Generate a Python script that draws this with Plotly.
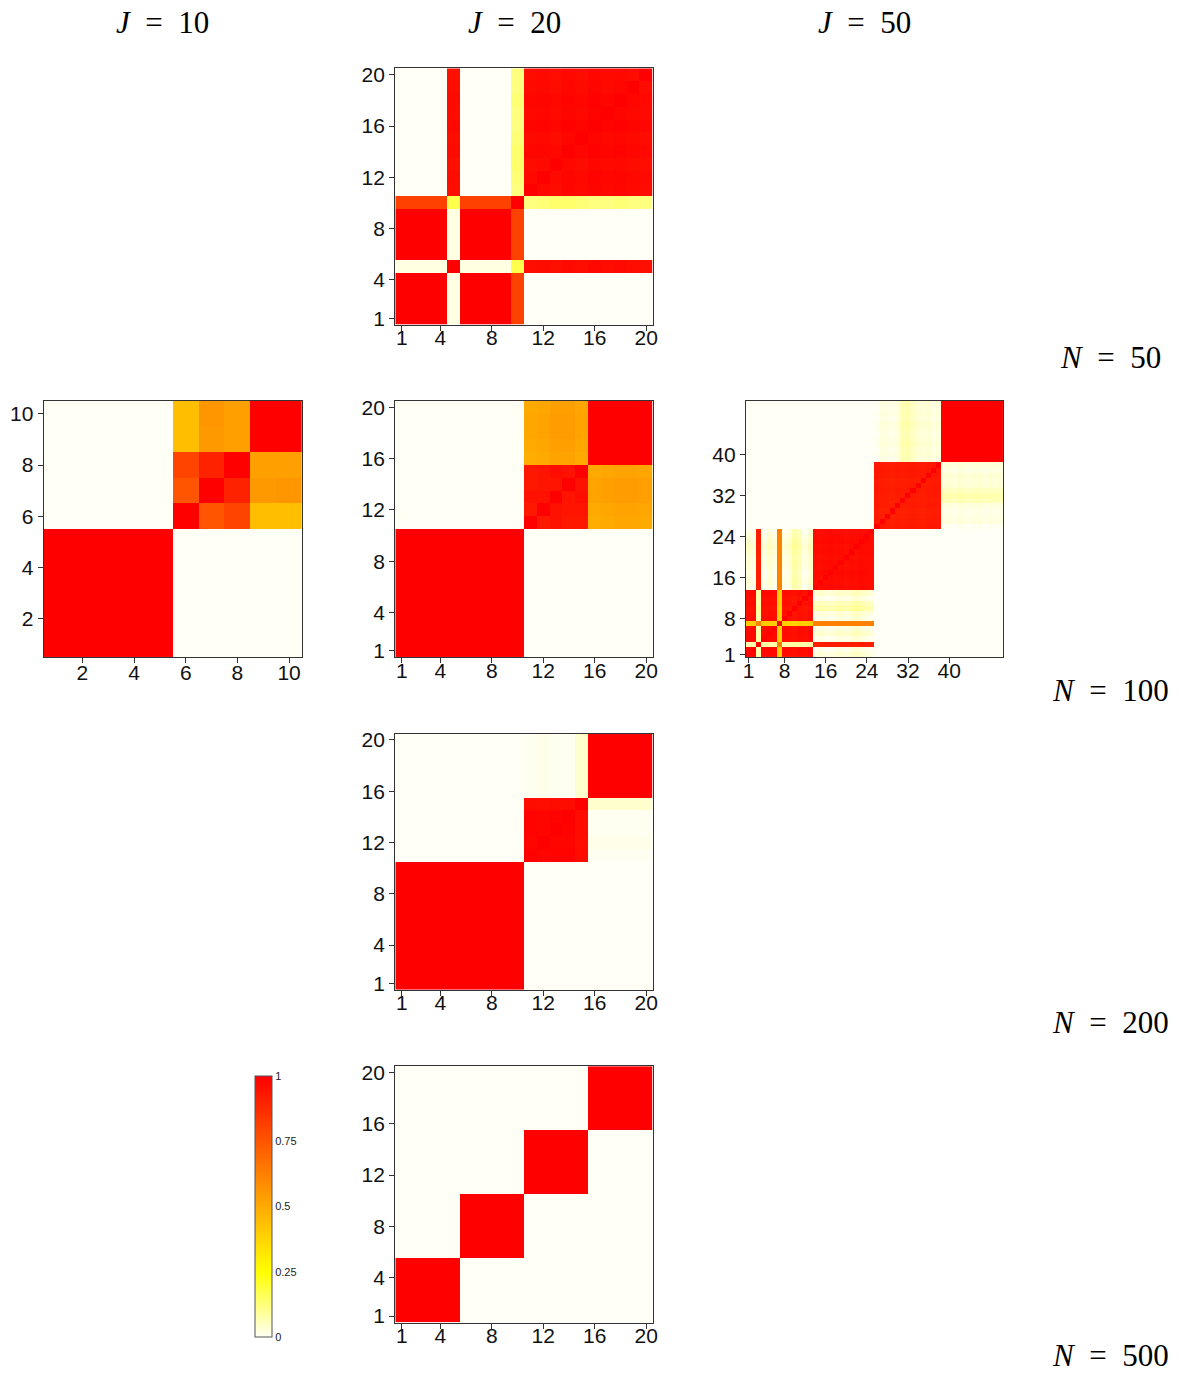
import numpy as np
import plotly.graph_objects as go

# ----------------------------------------------------------------- data
# Co-clustering probabilities.

# --- N = 50, J = 20
n50_A = [1, 2, 3, 4, 6, 7, 8, 9]
n50_B = [5, 11, 12, 13, 14, 15, 16, 17, 18, 19, 20]
n50_C = [10]
n50_A_tint = [1.0, 1.0, 1.0, 1.0, 1.0, 1.0, 1.0, 1.0]
n50_B_tint = [0.95, 0.97, 0.98, 0.96, 0.99, 0.97, 1.0, 0.98, 0.99, 0.97, 0.96]
n50_A_with_10 = [0.81, 0.81, 0.81, 0.81, 0.81, 0.81, 0.81, 0.81]
n50_B_with_10 = [0.17, 0.12, 0.13, 0.14, 0.14, 0.13, 0.12, 0.12, 0.13, 0.12, 0.12]
n50_A_with_5 = [0.02, 0.02, 0.02, 0.02, 0.02, 0.02, 0.02, 0.02]

# --- N = 100, J = 10
n100j10_A = [1, 2, 3, 4, 5]
n100j10_A_tint = [1.0, 1.0, 1.0, 1.0, 1.0]
n100j10_B = [6, 7, 8, 9, 10]
n100j10_B_vals = [
    [1.00, 0.75, 0.80, 0.44, 0.44],
    [0.75, 1.00, 0.90, 0.55, 0.56],
    [0.80, 0.90, 1.00, 0.53, 0.53],
    [0.44, 0.55, 0.53, 1.00, 1.00],
    [0.44, 0.56, 0.53, 1.00, 1.00],
]

# --- N = 100, J = 20
n100j20_A = [1, 2, 3, 4, 5, 6, 7, 8, 9, 10]
n100j20_A_tint = [1.0] * 10
n100j20_B = [11, 12, 13, 14, 15]
n100j20_B_vals = [
    [1.00, 0.93, 0.95, 0.93, 0.93],
    [0.93, 1.00, 0.95, 0.94, 0.94],
    [0.95, 0.95, 1.00, 0.94, 0.96],
    [0.93, 0.94, 0.94, 1.00, 0.95],
    [0.93, 0.94, 0.96, 0.95, 1.00],
]
n100j20_C = [16, 17, 18, 19, 20]
n100j20_C_tint = [1.0, 1.0, 1.0, 1.0, 1.0]
n100j20_BC_rows = [0.50, 0.51, 0.53, 0.53, 0.51]
n100j20_BC_cols = [-0.01, 0.0, 0.01, 0.01, 0.0]

# --- N = 200, J = 20
n200_A = [1, 2, 3, 4, 5, 6, 7, 8, 9, 10]
n200_A_tint = [1.0] * 10
n200_B = [11, 12, 13, 14, 15]
n200_B_tint = [0.99, 0.98, 0.99, 0.99, 0.94]
n200_C = [16, 17, 18, 19, 20]
n200_C_tint = [1.0, 1.0, 1.0, 1.0, 1.0]
n200_BC_rows = [0.004, 0.012, 0.004, 0.004, 0.04]
n200_BC_cols = [0.0, 0.0, 0.0, 0.0, 0.0]

# --- N = 500, J = 20
n500_groups = [[1, 2, 3, 4, 5], [6, 7, 8, 9, 10], [11, 12, 13, 14, 15], [16, 17, 18, 19, 20]]
n500_tint = [1.0, 1.0, 1.0, 1.0, 1.0]

# --- N = 100, J = 50
j50_A = [1, 2, 4, 5, 6, 8, 9, 10, 11, 12, 13]
j50_A_tint = [0.97, 0.98, 0.97, 0.98, 0.97, 0.96, 0.95, 0.93, 0.96, 0.94, 0.97]
j50_B = [3, 14, 15, 16, 17, 18, 19, 20, 21, 22, 23, 24, 25]
j50_B_tint = [0.86, 0.97, 0.96, 0.97, 0.98, 0.96, 0.97, 0.95, 0.97, 0.96, 0.98, 0.97, 0.96]
j50_7 = [7]
j50_C = [26, 27, 28, 29, 30, 31, 32, 33, 34, 35, 36, 37, 38]
j50_C_tint = [0.93, 0.92, 0.91, 0.90, 0.92, 0.91, 0.92, 0.93, 0.92, 0.91, 0.93, 0.94, 0.93]
j50_D = [39, 40, 41, 42, 43, 44, 45, 46, 47, 48, 49, 50]
j50_D_tint = [1.0] * 12
j50_AB_rows = [0.02, 0.005, 0.005, 0.03, 0.01, 0.01, 0.02, 0.07, 0.05, 0.005, 0.03]
j50_AB_cols = [0.05, 0.0, 0.01, 0.005, 0.0, 0.01, 0.015, 0.01, 0.02, 0.03, 0.02, 0.01, 0.0]
j50_3_with_A = [0.07, 0.07, 0.08, 0.08, 0.08, 0.07, 0.08, 0.09, 0.08, 0.07, 0.08]
j50_7_with_A = [0.40, 0.40, 0.40, 0.40, 0.40, 0.39, 0.39, 0.38, 0.40, 0.39, 0.40]
j50_7_with_B = [0.62, 0.62, 0.62, 0.62, 0.62, 0.62, 0.62, 0.62, 0.62, 0.62, 0.62, 0.62, 0.62]
j50_CD_rows = [0.0, 0.02, 0.015, 0.01, 0.02, 0.06, 0.07, 0.05, 0.03, 0.025, 0.03, 0.015, 0.025]
j50_CD_cols = [0.0, 0.005, 0.0, 0.01, 0.005, 0.0, 0.005, 0.01, 0.0, 0.005, 0.0, 0.005]

col_titles = ["J = 10", "J = 20", "J = 50"]
row_titles = ["N = 50", "N = 100", "N = 200", "N = 500"]
ticks_j10 = [2, 4, 6, 8, 10]
ticks_j20 = [1, 4, 8, 12, 16, 20]
ticks_j50 = [1, 8, 16, 24, 32, 40]
cbar_ticks = [0, 0.25, 0.5, 0.75, 1]
cbar_text = ["0", "0.25", "0.5", "0.75", "1"]


# ----------------------------------------------------------------- builders
def put_group(M, items, tint):
    for a, i in enumerate(items):
        for b, j in enumerate(items):
            M[i - 1, j - 1] = 1.0 if i == j else (tint[a] + tint[b]) / 2.0


def put_values(M, items, vals):
    for a, i in enumerate(items):
        for b, j in enumerate(items):
            M[i - 1, j - 1] = vals[a][b]


def put_cross(M, rows, cols, row_vals, col_offs=None):
    for a, i in enumerate(rows):
        for b, j in enumerate(cols):
            v = row_vals[a] + (col_offs[b] if col_offs is not None else 0.0)
            M[i - 1, j - 1] = v
            M[j - 1, i - 1] = v


# N=50, J=20
m_50_20 = np.zeros((20, 20))
put_group(m_50_20, n50_A, n50_A_tint)
put_group(m_50_20, n50_B, n50_B_tint)
put_group(m_50_20, n50_C, [1.0])
put_cross(m_50_20, n50_A, n50_C, n50_A_with_10)
put_cross(m_50_20, n50_B, n50_C, n50_B_with_10)
put_cross(m_50_20, n50_A, [5], n50_A_with_5)

# N=100, J=10
m_100_10 = np.zeros((10, 10))
put_group(m_100_10, n100j10_A, n100j10_A_tint)
put_values(m_100_10, n100j10_B, n100j10_B_vals)

# N=100, J=20
m_100_20 = np.zeros((20, 20))
put_group(m_100_20, n100j20_A, n100j20_A_tint)
put_values(m_100_20, n100j20_B, n100j20_B_vals)
put_group(m_100_20, n100j20_C, n100j20_C_tint)
put_cross(m_100_20, n100j20_B, n100j20_C, n100j20_BC_rows, n100j20_BC_cols)

# N=200, J=20
m_200_20 = np.zeros((20, 20))
put_group(m_200_20, n200_A, n200_A_tint)
put_group(m_200_20, n200_B, n200_B_tint)
put_group(m_200_20, n200_C, n200_C_tint)
put_cross(m_200_20, n200_B, n200_C, n200_BC_rows, n200_BC_cols)

# N=500, J=20
m_500_20 = np.zeros((20, 20))
for g in n500_groups:
    put_group(m_500_20, g, n500_tint)

# N=100, J=50
m_100_50 = np.zeros((50, 50))
put_group(m_100_50, j50_A, j50_A_tint)
put_group(m_100_50, j50_B, j50_B_tint)
put_group(m_100_50, j50_7, [1.0])
put_group(m_100_50, j50_C, j50_C_tint)
put_group(m_100_50, j50_D, j50_D_tint)
put_cross(m_100_50, j50_A, j50_B[1:], j50_AB_rows, j50_AB_cols[1:])
put_cross(m_100_50, j50_A, [3], j50_3_with_A)
put_cross(m_100_50, j50_A, j50_7, j50_7_with_A)
put_cross(m_100_50, j50_B, j50_7, j50_7_with_B)
put_cross(m_100_50, j50_C, j50_D, j50_CD_rows, j50_CD_cols)

# ----------------------------------------------------------------- layout
W, H = 1184, 1385
col_px = {10: (41, 301), 20: (395, 654), 50: (748, 1007)}
row_px = {50: (64, 323), 100: (400, 659), 200: (736, 995), 500: (1072, 1331)}

panels = [
    (50, 20, m_50_20, ticks_j20),
    (100, 10, m_100_10, ticks_j10),
    (100, 20, m_100_20, ticks_j20),
    (100, 50, m_100_50, ticks_j50),
    (200, 20, m_200_20, ticks_j20),
    (500, 20, m_500_20, ticks_j20),
]

fig = go.Figure()
tickfont = dict(family="Liberation Sans, Arial, sans-serif", size=21, color="#111")
for k, (N, J, M, tv) in enumerate(panels, start=1):
    n = M.shape[0]
    items = list(range(1, n + 1))
    sfx = "" if k == 1 else str(k)
    fig.add_trace(go.Heatmap(
        z=M, x=items, y=items, coloraxis="coloraxis",
        xaxis="x" + sfx, yaxis="y" + sfx, hoverinfo="skip",
    ))
    x0, x1 = col_px[J]
    y0, y1 = row_px[N]
    common = dict(
        range=[0.5, n + 0.5], tickvals=tv, ticktext=[str(t) for t in tv],
        ticks="outside", ticklen=5, tickwidth=1.2, tickcolor="#333",
        showline=True, mirror=True, linecolor="#333", linewidth=1.3,
        showgrid=False, zeroline=False, tickfont=tickfont, fixedrange=True,
    )
    x_standoff = -9 if J == 10 else -11
    fig.update_layout(**{
        "xaxis" + sfx: dict(domain=[x0 / W, x1 / W], anchor="y" + sfx,
                            ticklabelstandoff=x_standoff, **common),
        "yaxis" + sfx: dict(domain=[1 - y1 / H, 1 - y0 / H], anchor="x" + sfx,
                            ticklabelstandoff=0, **common),
    })

fig.update_layout(
    coloraxis=dict(
        cmin=0, cmax=1,
        colorscale=[[0, "#FFFFF5"], [0.25, "#FFFF00"], [1, "#FF0000"]],
        colorbar=dict(
            x=254 / W, xanchor="left", xpad=0, ypad=0,
            y=1 - 1082 / H, yanchor="top",
            lenmode="pixels", len=261, thicknessmode="pixels", thickness=17,
            outlinewidth=1, outlinecolor="#555",
            tickvals=cbar_ticks, ticktext=cbar_text, ticks="", ticklen=0,
            tickfont=dict(family="Liberation Sans, Arial, sans-serif", size=11, color="#222"),
        ),
    ),
)

title_font = dict(family="Liberation Serif, Times New Roman, serif", size=31, color="#000")


def math_label(s):
    var, val = s.split(" = ")
    return "<i>" + var + "</i>\u2002=\u2002" + val


for txt, cx in zip(col_titles, [161, 515, 867]):
    fig.add_annotation(x=cx / W, y=1 - 18 / H, xref="paper", yref="paper",
                       text=math_label(txt), showarrow=False, font=title_font,
                       xanchor="center", yanchor="middle")
for txt, cy in zip(row_titles, [356, 692, 1028, 1364]):
    fig.add_annotation(x=1115 / W, y=1 - cy / H, xref="paper", yref="paper",
                       text=math_label(txt), showarrow=False, font=title_font,
                       xanchor="center", yanchor="middle")

fig.update_layout(
    width=W, height=H, autosize=False,
    margin=dict(l=0, r=0, t=0, b=0),
    paper_bgcolor="white", plot_bgcolor="white",
    showlegend=False,
)

fig.write_html("out.html")
